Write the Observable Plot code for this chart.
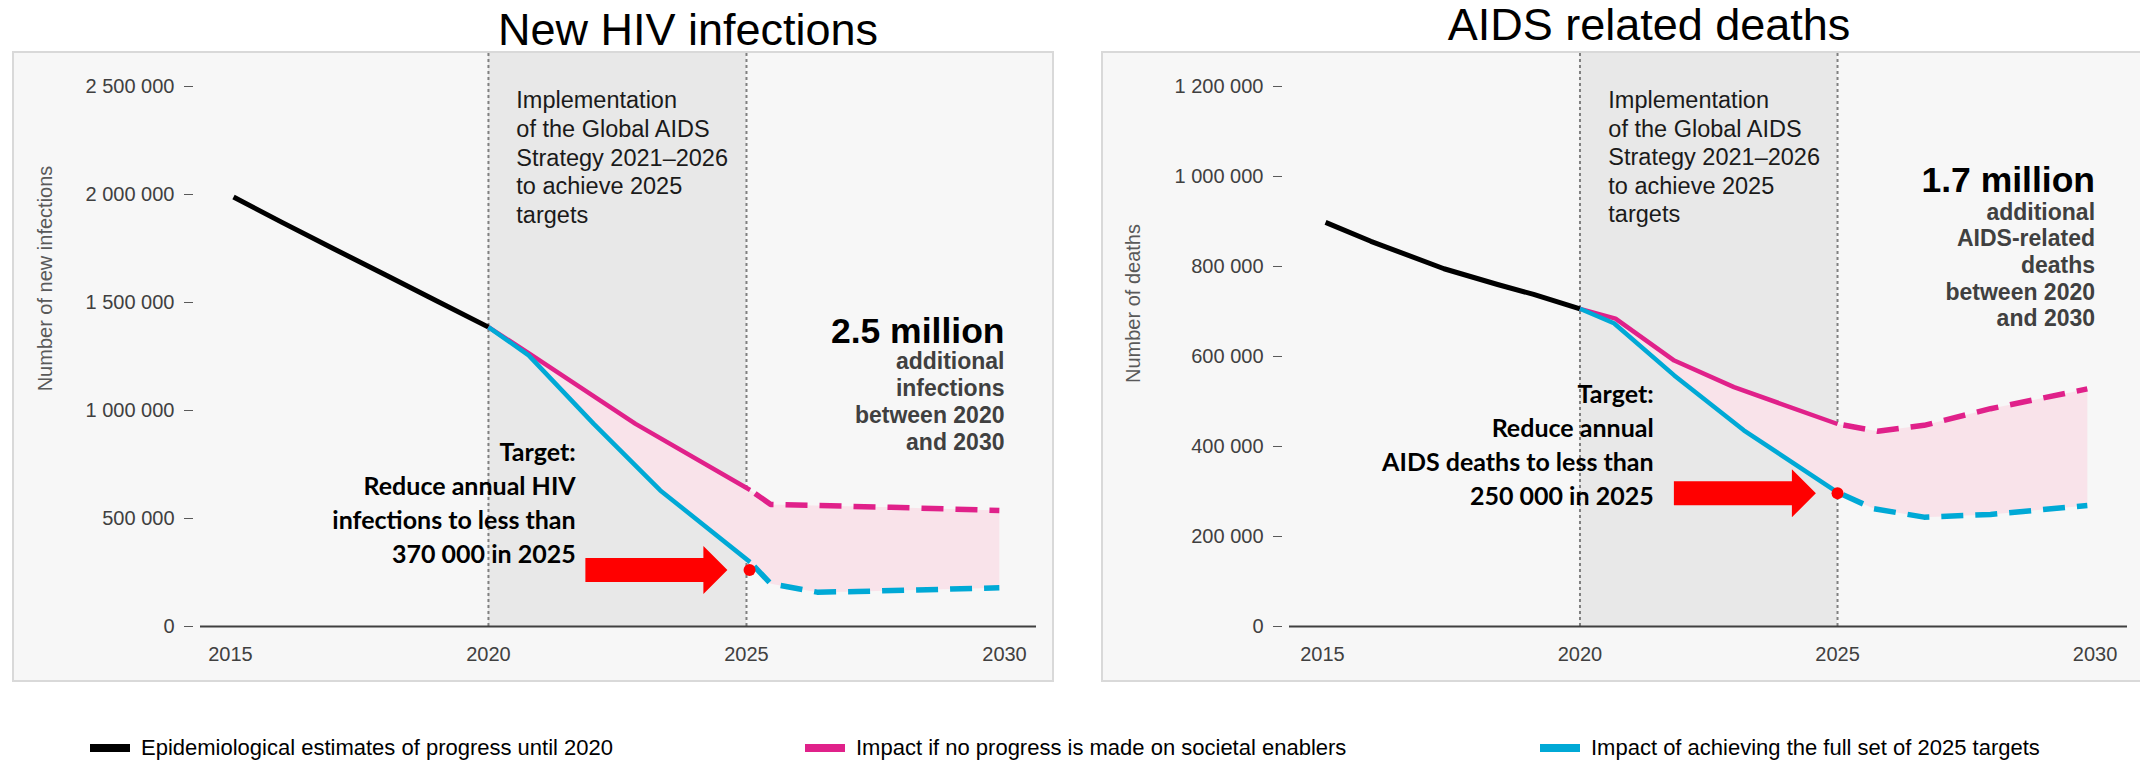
<!DOCTYPE html>
<html>
<head>
<meta charset="utf-8">
<script src="https://cdn.jsdelivr.net/npm/d3@7"></script>
<script src="https://cdn.jsdelivr.net/npm/@observablehq/plot@0.6"></script>
<style>
  html, body { margin: 0; padding: 0; background: #fff; overflow: hidden; }
  #page { position: relative; width: 2140px; height: 763px; overflow: hidden;
          font-family: "Liberation Sans", Arial, sans-serif; }
  .title { position: absolute; font-size: 45px; line-height: 1.117; white-space: nowrap;
           transform: translateX(-50%); color: #000; }
  .panel { position: absolute; top: 51px; }
  .panel svg { border: 2px solid #d9d9d9; display: block; max-width: none; }
  .legend-item { position: absolute; top: 735px; height: 26px; display: flex; align-items: center;
                 font-size: 22px; white-space: nowrap; color: #000; }
  .swatch { display: inline-block; width: 40px; height: 8px; margin-right: 11px; }
</style>
</head>
<body>
<div id="page"></div>
<script>
// ---- shared ----
const xTicks = [2015, 2020, 2025, 2030];
const strategyYears = [2020, 2025];

// ---- New HIV infections ----
const infTicks = [0, 500000, 1000000, 1500000, 2000000, 2500000];
const infHistYears = [2015.06, 2016, 2017, 2018, 2019, 2020];
const infHistValues = [1988000, 1871000, 1749000, 1628000, 1507000, 1386000];
const infNoEnablerYears = [2020, 2020.8, 2022.85, 2025.07];
const infNoEnablerValues = [1386000, 1262000, 938000, 632000];
const infNoEnablerProjYears = [2025.07, 2025.47, 2027.8, 2029.9];
const infNoEnablerProjValues = [632000, 565000, 552000, 537000];
const infFullYears = [2020, 2020.78, 2022.04, 2023.33, 2025.07];
const infFullValues = [1386000, 1255000, 938000, 630000, 298000];
const infFullProjYears = [2025.07, 2025.47, 2026.37, 2027.15, 2029.9];
const infFullProjValues = [298000, 198000, 159000, 162000, 179000];
const infMarkerYear = [2025.06];
const infMarkerValue = [262000];
const infArrowYear = [2024.63];

// ---- AIDS-related deaths ----
const dthTicks = [0, 200000, 400000, 600000, 800000, 1000000, 1200000];
const dthHistYears = [2015.06, 2015.94, 2017.36, 2018.4, 2019.1, 2020];
const dthHistValues = [898000, 856000, 795000, 760000, 738000, 706000];
const dthNoEnablerYears = [2020, 2020.69, 2021.83, 2022.99, 2025.0];
const dthNoEnablerValues = [706000, 684000, 591000, 532000, 450000];
const dthNoEnablerProjYears = [2025.0, 2025.78, 2026.68, 2027.97, 2029.85];
const dthNoEnablerProjValues = [450000, 434000, 447000, 484000, 528000];
const dthFullYears = [2020, 2020.66, 2021.83, 2023.18, 2025.0];
const dthFullValues = [706000, 674000, 558000, 436000, 298000];
const dthFullProjYears = [2025.0, 2025.7, 2026.68, 2027.97, 2029.85];
const dthFullProjValues = [298000, 262000, 243000, 249000, 269000];
const dthMarkerYear = [2025.0];
const dthMarkerValue = [296000];
const dthArrowYear = [2024.58];

// ---- texts ----
const titles = ["New HIV infections", "AIDS related deaths"];
const yLabels = ["Number of new infections", "Number of deaths"];
const strategyText = "Implementation\nof the Global AIDS\nStrategy 2021–2026\nto achieve 2025\ntargets";
const targetTexts = [
  "Target:\nReduce annual HIV\ninfections to less than\n370 000 in 2025",
  "Target:\nReduce annual\nAIDS deaths to less than\n250 000 in 2025"
];
const gapHeadlines = ["2.5 million", "1.7 million"];
const gapTexts = [
  "additional\ninfections\nbetween 2020\nand 2030",
  "additional\nAIDS-related\ndeaths\nbetween 2020\nand 2030"
];
const legendLabels = [
  "Epidemiological estimates of progress until 2020",
  "Impact if no progress is made on societal enablers",
  "Impact of achieving the full set of 2025 targets"
];

const colors = {hist: "#000000", noEnabler: "#e0218a", full: "#00a9d6", gap: "#f9e3ea",
                strategy: "#e8e8e8", target: "#ff0000"};

// Block arrow drawn with its tip at the dot position, pointing right.
const blockArrow = {
  draw(ctx) {
    ctx.moveTo(0, 0);
    ctx.lineTo(-24, -24);
    ctx.lineTo(-24, -12);
    ctx.lineTo(-142, -12);
    ctx.lineTo(-142, 12);
    ctx.lineTo(-24, 12);
    ctx.lineTo(-24, 24);
    ctx.closePath();
  }
};

const zip = (xs, ys) => xs.map((x, i) => ({x, y: ys[i]}));
const fmt = d => d3.format(",")(d).replace(/,/g, " ");

function panel(cfg) {
  const hist = zip(cfg.histYears, cfg.histValues);
  const noEnab = zip(cfg.noEnablerYears, cfg.noEnablerValues);
  const noEnabProj = zip(cfg.noEnablerProjYears, cfg.noEnablerProjValues);
  const full = zip(cfg.fullYears, cfg.fullValues);
  const fullProj = zip(cfg.fullProjYears, cfg.fullProjValues);
  const gap = [...noEnab, ...noEnabProj, ...fullProj.slice().reverse(), ...full.slice().reverse()];
  const marker = zip(cfg.markerYear, cfg.markerValue);
  const arrow = zip(cfg.arrowYear, cfg.markerValue);
  const v = cfg.toValue; // converts a pixel row of the page to a value on the y scale
  const dashed = {strokeWidth: 5.5, strokeDasharray: "22,12", strokeDashoffset: 28, strokeLinecap: "butt"};

  return Plot.plot({
    width: cfg.width,
    height: 627,
    marginLeft: 186,
    marginRight: cfg.width - cfg.plotRight,
    marginTop: 0,
    marginBottom: 54,
    style: {background: "#f7f7f7", fontFamily: "'Liberation Sans', Arial, sans-serif",
            fontSize: "20px", color: "#404040", overflow: "visible"},
    x: {domain: cfg.xDomain},
    y: {domain: [0, cfg.yTop]},
    marks: [
      Plot.rect([strategyYears], {x1: d => d[0], x2: d => d[1], fill: colors.strategy}),
      Plot.ruleX(strategyYears, {stroke: "#808080", strokeWidth: 2, strokeDasharray: "3,3"}),
      Plot.line(gap, {x: "x", y: "y", fill: colors.gap, stroke: "none"}),
      Plot.ruleY([0], {stroke: "#404040", strokeWidth: 2}),
      Plot.axisY({ticks: cfg.yTicks, tickFormat: fmt, tickSize: 9, tickPadding: 10, dx: -7,
                  stroke: "#595959", label: null}),
      Plot.axisX({ticks: xTicks, tickFormat: d => String(d), tickSize: 0, tickPadding: 20, label: null}),
      Plot.text([cfg.yLabel], {frameAnchor: "top-left", dx: cfg.yLabelX - 186, dy: cfg.yLabelY,
                               rotate: -90, textAnchor: "middle", lineAnchor: "middle",
                               fill: "#595959", fontSize: 20}),
      Plot.line(hist, {x: "x", y: "y", stroke: colors.hist, strokeWidth: 5, strokeLinecap: "butt"}),
      Plot.line(noEnab, {x: "x", y: "y", stroke: colors.noEnabler, strokeWidth: 4.5, strokeLinecap: "butt"}),
      Plot.line(full, {x: "x", y: "y", stroke: colors.full, strokeWidth: 4.5, strokeLinecap: "butt"}),
      Plot.line(noEnabProj, {x: "x", y: "y", stroke: colors.noEnabler, ...dashed}),
      Plot.line(fullProj, {x: "x", y: "y", stroke: colors.full, ...dashed}),
      Plot.dot(arrow, {x: "x", y: "y", symbol: blockArrow, fill: colors.target, stroke: "none"}),
      Plot.dot(marker, {x: "x", y: "y", r: 6, fill: colors.target, stroke: "none"}),
      Plot.text([strategyText], {x: () => cfg.strategyX, y: () => v(222), textAnchor: "start",
                                 lineAnchor: "bottom", lineHeight: 1.213, fontSize: 23.5, fill: "#1a1a1a"}),
      Plot.text([cfg.targetText], {x: () => cfg.targetX, y: () => v(cfg.targetBaseline), textAnchor: "end",
                                   lineAnchor: "bottom", lineHeight: 1.36, fontSize: 25,
                                   fontFamily: "Lato, 'Liberation Sans', sans-serif", fontWeight: 700, fill: "#000"}),
      Plot.text([cfg.gapHeadline], {x: () => 2030, y: () => v(cfg.headlineBaseline), textAnchor: "end",
                                    lineAnchor: "bottom", fontSize: 35.5, fontWeight: 700, fill: "#000"}),
      Plot.text([cfg.gapText], {x: () => 2030, y: () => v(cfg.gapBaseline), textAnchor: "end",
                                lineAnchor: "bottom", lineHeight: 1.16, fontSize: 23, fontWeight: 700, fill: "#404040"})
    ]
  });
}

const page = document.getElementById("page");

// titles
[[titles[0], 688, 5], [titles[1], 1649, 0]].forEach(([t, cx, top]) => {
  const d = document.createElement("div");
  d.className = "title";
  d.textContent = t;
  d.style.left = cx + "px";
  d.style.top = top + "px";
  page.appendChild(d);
});

// panels
const left = panel({
  width: 1038, plotRight: 1022, xDomain: [2014.42, 2030.62], yTop: 2652778, yTicks: infTicks,
  histYears: infHistYears, histValues: infHistValues,
  noEnablerYears: infNoEnablerYears, noEnablerValues: infNoEnablerValues,
  noEnablerProjYears: infNoEnablerProjYears, noEnablerProjValues: infNoEnablerProjValues,
  fullYears: infFullYears, fullValues: infFullValues,
  fullProjYears: infFullProjYears, fullProjValues: infFullProjValues,
  markerYear: infMarkerYear, markerValue: infMarkerValue, arrowYear: infArrowYear,
  yLabel: yLabels[0], yLabelX: 31, yLabelY: 225,
  toValue: row => (626 - row) * 1e6 / 216,
  strategyX: 2020.54,
  targetText: targetTexts[0], targetX: 2021.69, targetBaseline: 562,
  gapHeadline: gapHeadlines[0], headlineBaseline: 342,
  gapText: gapTexts[0], gapBaseline: 449
});
const right = panel({
  width: 1040, plotRight: 1024, xDomain: [2014.36, 2030.63], yTop: 1273333, yTicks: dthTicks,
  histYears: dthHistYears, histValues: dthHistValues,
  noEnablerYears: dthNoEnablerYears, noEnablerValues: dthNoEnablerValues,
  noEnablerProjYears: dthNoEnablerProjYears, noEnablerProjValues: dthNoEnablerProjValues,
  fullYears: dthFullYears, fullValues: dthFullValues,
  fullProjYears: dthFullProjYears, fullProjValues: dthFullProjValues,
  markerYear: dthMarkerYear, markerValue: dthMarkerValue, arrowYear: dthArrowYear,
  yLabel: yLabels[1], yLabelX: 30, yLabelY: 250,
  toValue: row => (626 - row) * 1e6 / 450,
  strategyX: 2020.55,
  targetText: targetTexts[1], targetX: 2021.43, targetBaseline: 505,
  gapHeadline: gapHeadlines[1], headlineBaseline: 192,
  gapText: gapTexts[1], gapBaseline: 326
});

[[left, 12], [right, 1101]].forEach(([svg, x]) => {
  const wrap = document.createElement("div");
  wrap.className = "panel";
  wrap.style.left = x + "px";
  wrap.appendChild(svg);
  page.appendChild(wrap);
});

// legend
[[legendLabels[0], colors.hist, 90], [legendLabels[1], colors.noEnabler, 805],
 [legendLabels[2], colors.full, 1540]].forEach(([label, color, x]) => {
  const item = document.createElement("div");
  item.className = "legend-item";
  item.style.left = x + "px";
  const sw = document.createElement("span");
  sw.className = "swatch";
  sw.style.background = color;
  item.appendChild(sw);
  item.appendChild(document.createTextNode(label));
  page.appendChild(item);
});
</script>
</body>
</html>
